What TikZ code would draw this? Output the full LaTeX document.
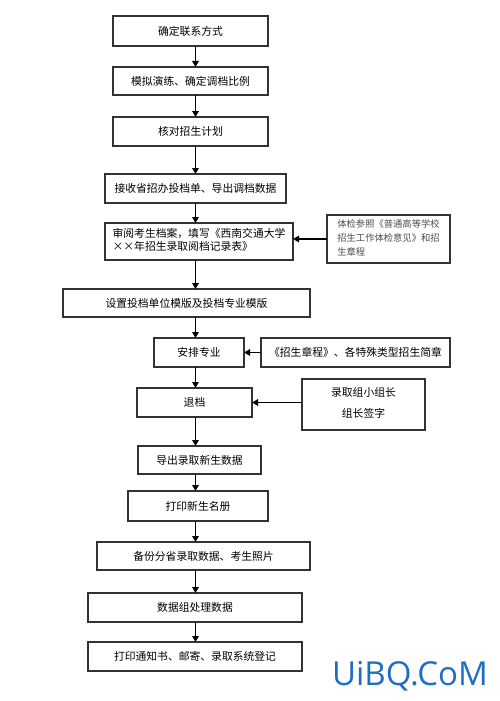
\documentclass[tikz,border=0pt]{standalone}
\usepackage{fontspec}
\setmainfont{Noto Sans CJK SC}
\newfontfamily\wmfont{Open Sans}
\usetikzlibrary{arrows.meta}
\definecolor{wm}{HTML}{1E6EC8}
\definecolor{bord}{HTML}{333333}
\tikzset{
  box/.style={draw=bord, line width=1.3pt, fill=white, inner sep=0pt, outer sep=0pt, font=\fontsize{10.8}{13.5}\selectfont, align=center},
  sidebox/.style={box, font=\fontsize{9.3}{14}\selectfont, text=black!70},
  arr/.style={line width=1.8pt, -{Triangle[length=6pt,width=6.5pt]}},
}
\newcommand\bx[7][box]{\node[#1, minimum width={(#5-#3)*1pt}, minimum height={(#6-#4)*1pt}] (#2) at ({(#3+#5)/2},{(#4+#6)/2}) {#7};}
\begin{document}
\begin{tikzpicture}[x=1pt,y=-1pt]
\useasboundingbox[fill=white] (0,0) rectangle (500,701);
\coordinate (ax) at (195.5,0);
\bx{b1}{113}{16}{268}{46}{确定联系方式}
\bx{b2}{113}{67}{268}{95}{模拟演练、确定调档比例}
\bx{b3}{113}{117}{268}{146}{核对招生计划}
\bx{b4}{105}{174}{286}{203}{接收省招办投档单、导出调档数据}
\bx{b5}{105}{223}{293}{260}{\begin{tabular}{@{}l@{}}审阅考生档案，填写《西南交通大学\\××年招生录取阅档记录表》\end{tabular}}
\bx[sidebox]{s5}{327}{215}{450}{263}{\begin{tabular}{@{}l@{}}体检参照《普通高等学校\\招生工作体检意见》和招\\生章程\end{tabular}}
\bx{b6}{63}{289}{310}{317}{设置投档单位模版及投档专业模版}
\bx{b7}{154}{338}{244}{367}{安排专业}
\bx{s7}{261}{338}{450}{367}{《招生章程》、各特殊类型招生简章}
\bx{b8}{137}{388}{252}{417}{退档}
\bx{s8}{302}{379}{425}{430}{\begin{tabular}{@{}c@{}}录取组小组长\\[8pt]组长签字\end{tabular}}
\bx{b9}{138}{446}{261}{474}{导出录取新生数据}
\bx{b10}{128}{491}{268}{521}{打印新生名册}
\bx{b11}{97}{542}{310}{570}{备份分省录取数据、考生照片}
\bx{b12}{88}{593}{302}{622}{数据组处理数据}
\bx{b13}{88}{642}{302}{671}{打印通知书、邮寄、录取系统登记}
\foreach \a/\b in {b1/b2,b2/b3,b3/b4,b4/b5,b5/b6,b6/b7,b7/b8,b8/b9,b9/b10,b10/b11,b11/b12,b12/b13}
  \draw[arr] (\a.south -| ax) -- (\b.north -| ax);
\draw[arr] (s5.west) -- (b5.east |- s5.west);
\draw[arr] (s7.west) -- (b7.east);
\draw[arr] (s8.west |- b8.east) -- (b8.east);
\node[font=\wmfont\fontsize{33}{33}\selectfont, text=wm, inner sep=0pt] (wm) at (410,676) {UiBQ.CoM};
\end{tikzpicture}
\end{document}
